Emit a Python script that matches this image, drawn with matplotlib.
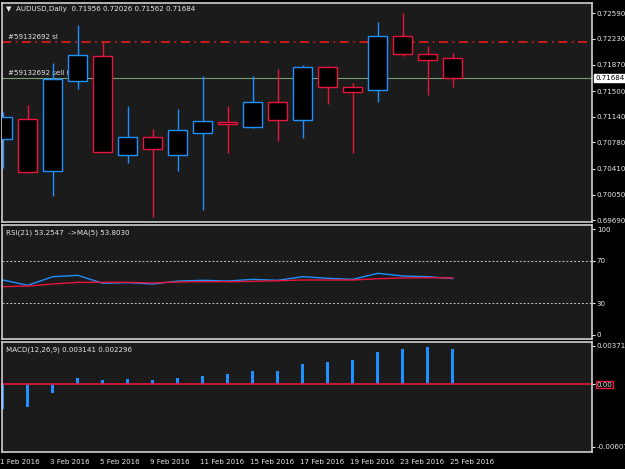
import matplotlib.pyplot as plt
from matplotlib.patches import Rectangle

# daily AUDUSD candles, 1..25 Feb 2016
dates = ['1 Feb 2016', '3 Feb 2016', '5 Feb 2016', '9 Feb 2016', '11 Feb 2016',
         '15 Feb 2016', '17 Feb 2016', '19 Feb 2016', '23 Feb 2016', '25 Feb 2016']
opens  = [0.70829, 0.71109, 0.70381, 0.71642, 0.71992, 0.70605, 0.70857, 0.70605, 0.70913, 0.71067,
          0.70997, 0.71347, 0.71095, 0.71838, 0.71557, 0.71515, 0.72272, 0.72020, 0.71956]
highs  = [0.71207, 0.71305, 0.71894, 0.72426, 0.72188, 0.71291, 0.70969, 0.71249, 0.71712, 0.71291,
          0.71712, 0.71810, 0.71866, 0.71852, 0.71613, 0.72468, 0.72594, 0.72132, 0.72026]
lows   = [0.70423, 0.70353, 0.70030, 0.71529, 0.70647, 0.70493, 0.69736, 0.70381, 0.69834, 0.70633,
          0.70983, 0.70801, 0.70843, 0.71319, 0.70633, 0.71347, 0.71992, 0.71445, 0.71562]
closes = [0.71137, 0.70367, 0.71670, 0.72006, 0.70647, 0.70857, 0.70689, 0.70955, 0.71081, 0.71039,
          0.71347, 0.71095, 0.71838, 0.71557, 0.71487, 0.72272, 0.72020, 0.71936, 0.71684]
rsi    = [51.9, 46.9, 55.0, 56.3, 48.8, 49.4, 48.1, 50.9, 51.6, 50.9,
          52.5, 51.6, 55.0, 53.5, 52.5, 58.2, 55.7, 55.0, 53.25]
rsi_ma = [45.6, 46.2, 48.1, 49.7, 49.7, 49.7, 49.1, 50.0, 50.3, 50.3,
          50.6, 51.2, 51.9, 51.9, 51.9, 53.1, 53.8, 54.1, 53.8]
macd   = [-0.00240, -0.00217, -0.00087, 0.00061, 0.00042, 0.00051, 0.00042, 0.00061, 0.00074, 0.00093,
          0.00129, 0.00129, 0.00197, 0.00216, 0.00236, 0.00313, 0.00342, 0.00355, 0.00340]
price_ticks = [0.72590, 0.72230, 0.71870, 0.71500, 0.71140, 0.70780, 0.70410, 0.70050, 0.69690]
sl_level = 0.72188
sell_level = 0.71684

BG = '#1b1b1b'
FG = '#e6e6e6'
BLUE = '#1e90ff'
RED = '#e8153c'
FS = 5.1

fig = plt.figure(figsize=(6.25, 4.69), dpi=100, facecolor='black')
ax = fig.add_axes([0.0032, 0.5267, 0.944, 0.467])
ax_rsi = fig.add_axes([0.0032, 0.2772, 0.944, 0.243])
ax_macd = fig.add_axes([0.0032, 0.0362, 0.944, 0.2345])

n = len(closes)
xs = list(range(n))
for a in (ax, ax_rsi, ax_macd):
    a.set_facecolor(BG)
    a.set_xlim(-0.03, 23.57)
    a.set_xticks([])
    a.yaxis.tick_right()
    a.tick_params(axis='y', colors=FG, labelsize=FS, length=2, pad=1.5)
    for s in a.spines.values():
        s.set_color('#cfcfcf')
        s.set_linewidth(1.2)

# candles
for i in xs:
    col = BLUE if closes[i] >= opens[i] else RED
    ax.vlines(i, lows[i], highs[i], color=col, lw=1, zorder=3)
    lo, hi = min(opens[i], closes[i]), max(opens[i], closes[i])
    ax.add_patch(Rectangle((i - 0.38, lo), 0.76, max(hi - lo, 0.00004),
                           facecolor='black', edgecolor=col, lw=1, zorder=4))
ax.set_ylim(0.69666, 0.72734)
ax.set_yticks(price_ticks)
ax.set_yticklabels(['%.5f' % v for v in price_ticks])
ax.axhline(sl_level, color='#ff1a1a', lw=1.1, ls=(0, (6, 3, 1, 3)), zorder=1)
ax.axhline(sell_level, color='#3a9a3a', lw=0.8, zorder=1)
ax.axhline(sell_level, color='#9a9a9a', lw=0.5, zorder=1)
ax.text(0.007, 0.985, '\u25bc  AUDUSD,Daily  0.71956 0.72026 0.71562 0.71684', transform=ax.transAxes,
        color=FG, fontsize=FS, va='top')
ax.text(0.2, sl_level + 0.0003, '#59132692 sl', color=FG, fontsize=FS, va='bottom', zorder=2)
ax.text(0.2, sell_level + 0.0003, '#59132692 sell 0.0', color=FG, fontsize=FS, va='bottom', zorder=2)
ax.text(1.006, sell_level, '%.5f' % sell_level, transform=ax.get_yaxis_transform(), color='black',
        fontsize=FS, va='center', bbox=dict(facecolor='white', edgecolor='white', pad=0.8))

# RSI
ax_rsi.plot(xs, rsi, color=BLUE, lw=1)
ax_rsi.plot(xs, rsi_ma, color=RED, lw=1)
for lv in (70, 30):
    ax_rsi.axhline(lv, color='#c8c8c8', lw=0.7, ls=(0, (2, 2)))
ax_rsi.set_ylim(-3.8, 103.8)
ax_rsi.set_yticks([100, 70, 30, 0])
ax_rsi.text(0.007, 0.96, 'RSI(21) 53.2547  ->MA(5) 53.8030', transform=ax_rsi.transAxes,
            color=FG, fontsize=FS, va='top')

# MACD
ax_macd.bar(xs, macd, width=0.12, color=BLUE)
ax_macd.axhline(0, color=RED, lw=1.2)
ax_macd.set_ylim(-0.00657, 0.00407)
ax_macd.set_yticks([0.003717, 0.0, -0.006071])
ax_macd.set_yticklabels(['0.003717', '0.00', '-0.006071'])
ax_macd.get_yticklabels()[1].set_bbox(dict(facecolor='none', edgecolor=RED, pad=0.5))
ax_macd.text(0.007, 0.96, 'MACD(12,26,9) 0.003141 0.002296', transform=ax_macd.transAxes,
             color=FG, fontsize=FS, va='top')

# date labels every second bar
for k, d in enumerate(dates):
    ax_macd.text(2 * k - 0.1, -0.0072, d, color=FG, fontsize=FS, va='top', ha='left', clip_on=False)

fig.savefig('out.png', dpi=100, facecolor='black')
